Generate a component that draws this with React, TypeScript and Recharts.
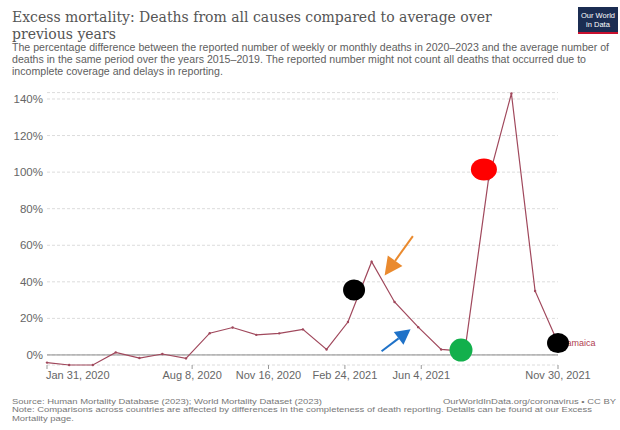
import React from "react";
import {
  LineChart,
  Line,
  XAxis,
  YAxis,
  CartesianGrid,
  ReferenceLine,
  ReferenceDot,
} from "recharts";

// monthly excess mortality, Jamaica (%)
const dates = [
  "2020-01-31", "2020-02-29", "2020-03-31", "2020-04-30", "2020-05-31", "2020-06-30",
  "2020-07-31", "2020-08-31", "2020-09-30", "2020-10-31", "2020-11-30", "2020-12-31",
  "2021-01-31", "2021-02-28", "2021-03-31", "2021-04-30", "2021-05-31", "2021-06-30",
  "2021-07-31", "2021-08-31", "2021-09-30", "2021-10-31", "2021-11-30",
];
const excess = [
  -4.2, -5.5, -5.5, 1.4, -1.7, 0.5, -1.9, 11.9, 15, 11, 11.8, 14,
  3, 18, 51, 29, 15.2, 3, 2, 96, 143, 35, 6.5,
];

const xTickDates = ["2020-01-31", "2020-08-08", "2020-11-16", "2021-02-24", "2021-06-04", "2021-11-30"];
const yTicks = [0, 20, 40, 60, 80, 100, 120, 140];
const MONTHS = ["Jan", "Feb", "Mar", "Apr", "May", "Jun", "Jul", "Aug", "Sep", "Oct", "Nov", "Dec"];

// hand-drawn markers on top of the chart: [date, value, colour, rx, ry]
const markers: [string, number, string, number, number][] = [
  ["2021-03-08", 35.5, "#000000", 11, 10.5],
  ["2021-08-25", 101.5, "#ff0000", 13, 11],
  ["2021-07-26", 2.7, "#12b04c", 11.5, 11.5],
  ["2021-11-30", 6.5, "#000000", 11, 10],
];
// arrows: [tail date, tail value, head date, head value, colour]
const arrows: [string, number, string, number, string][] = [
  ["2021-05-24", 65, "2021-04-17", 43.5, "#ea8a2e"],
  ["2021-04-13", 2, "2021-05-21", 14, "#1f72c8"],
];

const ts = (d: string) => Date.parse(d + "T00:00:00Z");
const data = dates.map((d, i) => ({ t: ts(d), v: excess[i] }));
const xTicks = xTickDates.map(ts);
const fmtDate = (t: number) => {
  const d = new Date(t);
  return `${MONTHS[d.getUTCMonth()]} ${d.getUTCDate()}, ${d.getUTCFullYear()}`;
};

const LINE = "#a0485c";
const SANS = "'Liberation Sans', Arial, sans-serif";

function XTick(props: any) {
  const { x, y, payload, index } = props;
  return (
    <text
      x={index === 0 ? x - 1 : x}
      y={y}
      dy="0.71em"
      textAnchor={index === 0 ? "start" : "middle"}
      fill="#666"
      fontSize={11}
      fontFamily={SANS}
    >
      {fmtDate(payload.value)}
    </text>
  );
}

function arrowShape(color: string, len: number, w: number) {
  return (p: any) => {
    const { x1, y1, x2, y2 } = p;
    const ang = Math.atan2(y2 - y1, x2 - x1);
    const bx = x2 - len * Math.cos(ang);
    const by = y2 - len * Math.sin(ang);
    const nx = -Math.sin(ang);
    const ny = Math.cos(ang);
    return (
      <g>
        <line x1={x1} y1={y1} x2={bx} y2={by} stroke={color} strokeWidth={2} />
        <polygon
          points={`${x2},${y2} ${bx + nx * w},${by + ny * w} ${bx - nx * w},${by - ny * w}`}
          fill={color}
        />
      </g>
    );
  };
}

export default function App() {
  const last = data[data.length - 1];
  return (
    <div
      style={{
        position: "absolute",
        left: 0,
        top: 0,
        width: 620,
        height: 430,
        background: "#fff",
        overflow: "hidden",
      }}
    >
      <div
        style={{
          position: "absolute",
          left: 12,
          top: 9,
          width: 490,
          fontFamily: "'DejaVu Serif', Georgia, serif",
          fontSize: 14,
          lineHeight: "16.5px",
          color: "#555",
        }}
      >
        Excess mortality: Deaths from all causes compared to average over previous years
      </div>
      <div
        style={{
          position: "absolute",
          left: 12,
          top: 40.5,
          fontFamily: SANS,
          fontSize: 10.6,
          lineHeight: "12.4px",
          color: "#5e5e5e",
          whiteSpace: "nowrap",
        }}
      >
        The percentage difference between the reported number of weekly or monthly deaths in 2020–2023 and the average number of
        <br />
        deaths in the same period over the years 2015–2019. The reported number might not count all deaths that occurred due to
        <br />
        incomplete coverage and delays in reporting.
      </div>
      <div
        style={{
          position: "absolute",
          left: 578,
          top: 7,
          width: 40,
          height: 27,
          background: "#1b2d52",
          borderBottom: "2px solid #c8102e",
          boxSizing: "border-box",
          color: "#fff",
          fontFamily: SANS,
          fontSize: 7.5,
          lineHeight: "9px",
          textAlign: "center",
          paddingTop: 4,
        }}
      >
        Our World
        <br />
        in Data
      </div>

      <LineChart
        width={620}
        height={430}
        data={data}
        margin={{ top: 92.6, right: 62, bottom: 35, left: 0 }}
        style={{ position: "absolute", left: 0, top: 0 }}
      >
        <CartesianGrid vertical={false} stroke="#dcdcdc" strokeDasharray="3 2" />
        <XAxis
          dataKey="t"
          type="number"
          domain={[data[0].t, last.t]}
          ticks={xTicks}
          interval={0}
          tick={<XTick />}
          tickLine={{ stroke: "#999" }}
          tickSize={4}
          tickMargin={2}
          axisLine={false}
          height={30}
        />
        <YAxis
          type="number"
          domain={[-5.5, 143.5]}
          ticks={yTicks}
          tickFormatter={(v) => `${v}%`}
          tick={{ fill: "#666", fontSize: 11.5, fontFamily: SANS }}
          tickLine={false}
          axisLine={false}
          tickSize={4}
          tickMargin={0}
          width={47}
        />
        <ReferenceLine y={0} stroke="#8c8c8c" strokeWidth={1} />
        <Line
          type="linear"
          dataKey="v"
          stroke={LINE}
          strokeWidth={1.2}
          dot={{ r: 1.2, fill: LINE, stroke: "none" }}
          isAnimationActive={false}
        />
        <ReferenceDot
          x={last.t}
          y={last.v}
          r={0}
          shape={(p: any) => (
            <text x={p.cx + 4} y={p.cy + 3} fill="#b0404f" fontSize={9} fontFamily={SANS}>
              Jamaica
            </text>
          )}
        />
        {arrows.map(([d1, v1, d2, v2, c], i) => (
          <ReferenceLine
            key={`a${i}`}
            segment={[
              { x: ts(d1), y: v1 },
              { x: ts(d2), y: v2 },
            ]}
            shape={i === 0 ? arrowShape(c, 18, 9) : arrowShape(c, 15, 8)}
          />
        ))}
        {markers.map(([d, v, c, rx, ry], i) => (
          <ReferenceDot
            key={`m${i}`}
            x={ts(d)}
            y={v}
            r={rx}
            shape={(p: any) => <ellipse cx={p.cx} cy={p.cy} rx={rx} ry={ry} fill={c} />}
          />
        ))}
      </LineChart>

      <div
        style={{
          position: "absolute",
          left: 12,
          top: 397.7,
          width: 512,
          fontFamily: SANS,
          fontSize: 8,
          lineHeight: "8.5px",
          color: "#777",
          transform: "scaleX(1.18)",
          transformOrigin: "0 0",
        }}
      >
        <div style={{ display: "flex", justifyContent: "space-between", whiteSpace: "nowrap" }}>
          <span>Source: Human Mortality Database (2023); World Mortality Dataset (2023)</span>
          <span>OurWorldInData.org/coronavirus • CC BY</span>
        </div>
        <div style={{ width: 495 }}>
          Note: Comparisons across countries are affected by differences in the completeness of death reporting.
          Details can be found at our Excess Mortality page.
        </div>
      </div>
    </div>
  );
}
